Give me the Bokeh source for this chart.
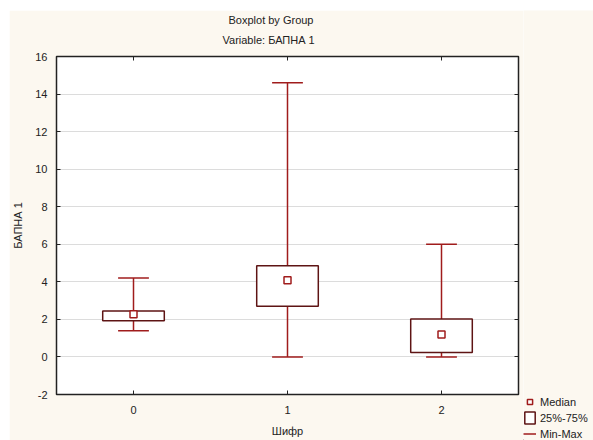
from bokeh.plotting import figure
from bokeh.layouts import row
from bokeh.models import (Range1d, FixedTicker, LinearAxis, Title, Legend,
                          LegendItem, ColumnDataSource)
from bokeh.embed import file_html
from bokeh.resources import INLINE

# ---- data ----
groups = [0, 1, 2]
x_tick_labels = ["0", "1", "2"]
mins = [1.40, 0.00, 0.00]
q1 = [1.93, 2.70, 0.24]
medians = [2.27, 4.08, 1.20]
q3 = [2.45, 4.86, 2.02]
maxs = [4.20, 14.60, 6.00]
y_ticks = [-2, 0, 2, 4, 6, 8, 10, 12, 14, 16]
title_1 = "Boxplot by Group"
title_2 = "Variable: БАПНА 1"
x_label = "Шифр"
y_label = "БАПНА 1"
legend_labels = ["Median", "25%-75%", "Min-Max"]

# ---- styles ----
CREAM = "#FCF8F0"
BOX_C = "#5E1414"
WHISK_C = "#A01C1C"
TXT = "#222222"
FONT = "Liberation Sans"
BOX_W = 0.4
CAP_HALF = 0.1

src = ColumnDataSource(dict(
    x=groups, lo=mins, q1=q1, med=medians, q3=q3, hi=maxs,
    cl=[g - CAP_HALF for g in groups], cr=[g + CAP_HALF for g in groups],
))


def draw_boxes(fig):
    stem = fig.segment(x0="x", y0="lo", x1="x", y1="hi", source=src,
                       line_color=WHISK_C, line_width=1.5)
    fig.segment(x0="cl", y0="hi", x1="cr", y1="hi", source=src,
                line_color=WHISK_C, line_width=1.5)
    fig.segment(x0="cl", y0="lo", x1="cr", y1="lo", source=src,
                line_color=WHISK_C, line_width=1.5)
    box = fig.vbar(x="x", width=BOX_W, bottom="q1", top="q3", source=src,
                   fill_color="white", line_color=BOX_C, line_width=1.5)
    med = fig.scatter(x="x", y="med", source=src, marker="square", size=7,
                      fill_color="white", line_color=WHISK_C, line_width=1.5)
    return med, box, stem


p = figure(width=514, height=430, margin=(10, 0, 0, 9),
           x_range=Range1d(-0.5, 2.5), y_range=Range1d(-2, 16),
           output_backend="svg", toolbar_location=None,
           min_border_left=45, min_border_right=5,
           min_border_top=46, min_border_bottom=46,
           border_fill_color=CREAM, background_fill_color="white",
           outline_line_color=TXT, outline_line_width=1.5,
           x_axis_label=x_label, y_axis_label=y_label)

draw_boxes(p)

# axes
p.xaxis.ticker = FixedTicker(ticks=groups)
p.xaxis.major_label_overrides = {g: t for g, t in zip(groups, x_tick_labels)}
p.yaxis.ticker = FixedTicker(ticks=y_ticks)
p.yaxis.major_label_overrides = {t: str(t) for t in y_ticks}
for ax in (p.xaxis[0], p.yaxis[0]):
    ax.major_tick_in = 4
    ax.major_tick_out = 0
    ax.minor_tick_line_color = None
    ax.major_tick_line_color = TXT
    ax.axis_line_color = TXT
    ax.major_label_text_font = FONT
    ax.major_label_text_font_size = "11px"
    ax.major_label_text_color = TXT
    ax.axis_label_text_font = FONT
    ax.axis_label_text_font_size = "11px"
    ax.axis_label_text_font_style = "normal"
    ax.axis_label_text_color = TXT
p.yaxis.major_label_standoff = 9
p.yaxis.axis_label_standoff = 8
p.xaxis.major_label_standoff = 11
p.xaxis.axis_label_standoff = 8

# mirrored ticks on top and right
for side in ("above", "right"):
    ax = LinearAxis(ticker=FixedTicker(ticks=groups if side == "above" else y_ticks),
                    major_tick_in=4, major_tick_out=0, major_label_standoff=0,
                    minor_tick_line_color=None,
                    major_tick_line_color=TXT, axis_line_color=TXT,
                    major_label_text_alpha=0, major_label_text_font_size="1px")
    p.add_layout(ax, side)

p.xgrid.grid_line_color = None
p.ygrid.grid_line_color = "#DCDCDC"
p.ygrid.ticker = FixedTicker(ticks=y_ticks)

# titles (second one added is placed further out)
p.add_layout(Title(text=title_2, align="left", offset=166, standoff=22,
                   text_font=FONT, text_font_size="11px",
                   text_font_style="normal", text_color=TXT), "above")
p.add_layout(Title(text=title_1, align="left", offset=172, standoff=-10,
                   text_font=FONT, text_font_size="11px",
                   text_font_style="normal", text_color=TXT), "above")

# legend panel: a bare plot to the right holding the legend
lf = figure(width=70, height=430, margin=(10, 0, 0, 0), frame_align=False,
            x_range=Range1d(10, 11), y_range=Range1d(100, 101),
            x_axis_type=None, y_axis_type=None,
            output_backend="svg", toolbar_location=None, min_border=0,
            border_fill_color=CREAM, background_fill_color=CREAM,
            outline_line_color=None)
lf.grid.visible = False
med_r, box_r, stem_r = draw_boxes(lf)

legend = Legend(items=[LegendItem(label=legend_labels[0], renderers=[med_r]),
                       LegendItem(label=legend_labels[1], renderers=[box_r]),
                       LegendItem(label=legend_labels[2], renderers=[stem_r])],
                location=(0, -1), glyph_height=15, glyph_width=13,
                spacing=1, padding=0, margin=0, label_height=15,
                label_standoff=4, background_fill_alpha=0,
                border_line_color=None, label_text_font=FONT,
                label_text_font_size="11px", label_text_color=TXT)
lf.add_layout(legend)

layout = row(p, lf)
open("out.html", "w").write(file_html(layout, INLINE))
